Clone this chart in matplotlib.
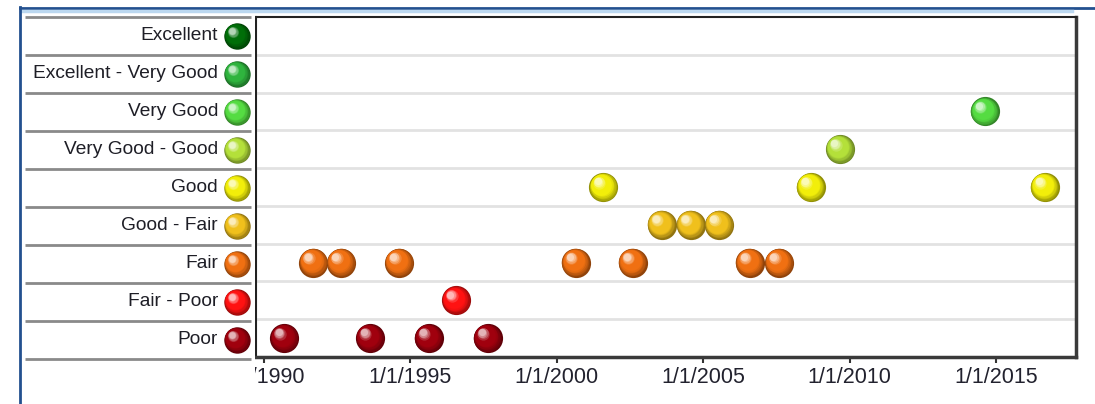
import numpy as np
import matplotlib
matplotlib.use("Agg")
import matplotlib.pyplot as plt
from matplotlib.colors import to_rgb
from matplotlib.lines import Line2D
from matplotlib.transforms import offset_copy

plt.rcParams['font.family'] = ['Liberation Sans', 'DejaVu Sans']

# Категории оценки (снизу вверх)
categories = ["Poor", "Fair - Poor", "Fair", "Good - Fair", "Good",
              "Very Good - Good", "Very Good", "Excellent - Very Good", "Excellent"]
cat_colors = ["#a0000e", "#ff1212", "#f07012", "#f0c01c", "#f2ee0a",
              "#b4e03a", "#55dc42", "#2fb43e", "#006e08"]

# Даты наблюдений (десятичные годы) и оценки
obs_years = [1990.71, 1993.63, 1995.64, 1997.65,
             1996.57,
             1991.70, 1992.65, 1994.63, 2000.66, 2002.60, 2006.60, 2007.60,
             2003.59, 2004.58, 2005.55,
             2001.60, 2008.68, 2016.67,
             2009.68,
             2014.62]
obs_rating = ["Poor", "Poor", "Poor", "Poor",
              "Fair - Poor",
              "Fair", "Fair", "Fair", "Fair", "Fair", "Fair", "Fair",
              "Good - Fair", "Good - Fair", "Good - Fair",
              "Good", "Good", "Good",
              "Very Good - Good",
              "Very Good"]

tick_years = [1990, 1995, 2000, 2005, 2010, 2015]
tick_labels = ["1/1/%d" % y for y in tick_years]

W, H = 1095, 404
fig = plt.figure(figsize=(W / 100, H / 100), dpi=100)
fig.patch.set_facecolor("white")


def draw_ball(ax, x, y, color, d):
    # шарик с бликом: несколько кругов от тёмного края к светлому центру
    base = np.array(to_rgb(color))
    dark = base * 0.6
    light = base + (1 - base) * 0.7
    n = 14
    for i in range(n):
        t = i / (n - 1)
        if t < 0.35:
            c = dark + (base - dark) * (t / 0.35)
        elif t < 0.7:
            c = base
        else:
            c = base + (light - base) * ((t - 0.7) / 0.3)
        size = d * (1 - 0.75 * t)
        off = d * 0.2 * t
        tr = offset_copy(ax.transData, fig=fig, x=-off, y=off, units='points')
        ax.plot(x, y, 'o', ms=size, mfc=tuple(np.clip(c, 0, 1)), mec='none',
                transform=tr, zorder=5 + i * 0.01, clip_on=False)


# Основная область графика
ax = fig.add_axes([256 / W, 47 / H, 820 / W, 340 / H])
ax.set_xlim(1989.74, 2017.73)
ax.set_ylim(-0.5, len(categories) - 0.5)
for k in range(1, len(categories)):
    ax.axhline(k - 0.5, color="#e2e2e2", lw=2, zorder=1)

for yr, r in zip(obs_years, obs_rating):
    idx = categories.index(r)
    draw_ball(ax, yr, idx, cat_colors[idx], 21)

ax.set_yticks([])
ax.set_xticks(tick_years)
ax.set_xticklabels(tick_labels, fontsize=15.5, color="#22222e")
ax.tick_params(axis='x', length=4, width=1.5, color="#333333", pad=3)
for s in ["left", "top"]:
    ax.spines[s].set_linewidth(1.5)
    ax.spines[s].set_color("#222222")
for s in ["right", "bottom"]:
    ax.spines[s].set_linewidth(2.5)
    ax.spines[s].set_color("#3a3a3a")

# Белая подложка слева (скрывает часть подписи 1990)
cover = fig.add_axes([0, 0, 255 / W, 1])
cover.axis("off")
cover.add_patch(plt.Rectangle((0, 0), 1, 1, transform=cover.transAxes,
                              color="white", zorder=0))
cover.set_zorder(2)

# Панель с легендой категорий
panel = fig.add_axes([0, 45 / H, 256 / W, 342 / H])
panel.set_zorder(3)
panel.patch.set_alpha(0)
panel.axis("off")
panel.set_xlim(0, 256)
panel.set_ylim(-0.5, len(categories) - 0.5)
for k in range(len(categories) + 1):
    panel.plot([25, 251], [k - 0.5, k - 0.5], color="#8a8a8a", lw=2,
               solid_capstyle='butt', clip_on=False)
for i, (name, col) in enumerate(zip(categories, cat_colors)):
    panel.text(218, i, name, ha="right", va="center", fontsize=13.8,
               color="#1e1e26")
    draw_ball(panel, 237, i, col, 19)

# Синяя рамка
fig.add_artist(Line2D([20 / W, 1], [1 - 8 / H] * 2, transform=fig.transFigure,
                      color="#23508f", lw=2, zorder=10))
fig.add_artist(Line2D([21 / W, 1072 / W], [1 - 10.5 / H] * 2,
                      transform=fig.transFigure, color="#bcd8f0", lw=2.5,
                      zorder=10))
fig.add_artist(Line2D([20 / W, 20 / W], [0, 1 - 7 / H], transform=fig.transFigure,
                      color="#23508f", lw=2, zorder=10))

fig.savefig("out.png", dpi=100)
